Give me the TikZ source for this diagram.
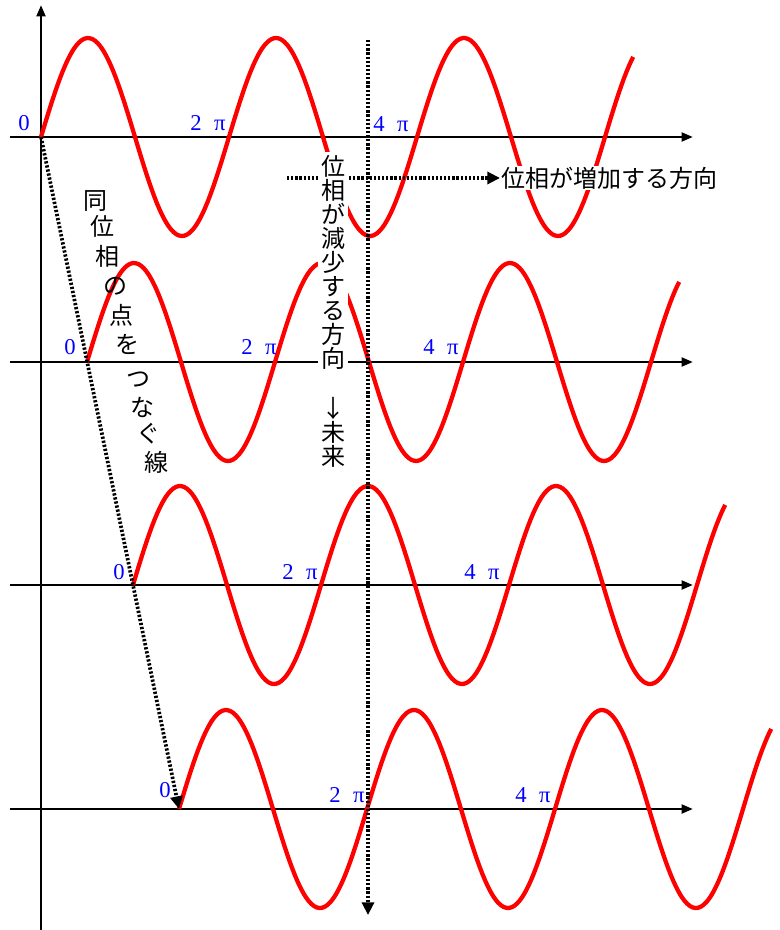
\documentclass[tikz,border=0pt]{standalone}
\usepackage{fontspec}
\newfontfamily\jpfont{Noto Sans CJK JP}
\newfontfamily\labfont{Liberation Serif}
\usetikzlibrary{arrows.meta,positioning}

\begin{document}
\begin{tikzpicture}[
  x=0.75pt, y=-0.75pt,
  axis/.style={line width=2pt, -{Triangle[length=8.5pt,width=6.5pt]}},
  wave/.style={red, line width=3.2pt},
  dotarr/.style={line width=2.8pt, dash pattern=on 1.7pt off 1.4pt,
                 -{Triangle[length=9.5pt,width=9pt]}},
  phase/.style={blue, font=\labfont\fontsize{17}{17}\selectfont, inner sep=0pt},
  jp/.style={font=\jpfont\fontsize{18}{18}\selectfont, inner sep=1pt},
  vjp/.style={jp, align=center, fill=white, inner sep=2pt}
]
  \useasboundingbox (0,0) rectangle (779,930);

  % axes and waves
  \coordinate (ybot) at (41,930);
  \coordinate (ytop) at (41,5);
  \draw[axis] (ybot) -- (ytop);
  \foreach \r/\yb/\xs in {1/137/41, 2/362/87, 3/585/133, 4/809/179} {
    \coordinate (w\r) at (10,\yb);
    \coordinate (e\r) at (693,\yb);
    \coordinate (o\r) at (\xs,\yb);
    \draw[axis] (w\r) -- (e\r);
    \draw[wave] plot[domain=0:1134, samples=220, smooth]
      ({\xs+\x*0.522222}, {\yb-99*sin(\x)});
  }

  % phase labels
  \node[phase] (z1) at (24,123) {0};
  \node[phase] (a1) at (208,123) {2\hspace{0.55em}π};
  \node[phase] (b1) at (391,124) {4\hspace{0.55em}π};
  \node[phase] (z2) at (70,347) {0};
  \node[phase] (a2) at (259,347) {2\hspace{0.55em}π};
  \node[phase] (b2) at (441,347) {4\hspace{0.55em}π};
  \node[phase] (z3) at (119,572) {0};
  \node[phase] (a3) at (300,572) {2\hspace{0.55em}π};
  \node[phase] (b3) at (482,572) {4\hspace{0.55em}π};
  \node[phase] (z4) at (165,790) {0};
  \node[phase] (a4) at (347,795) {2\hspace{0.55em}π};
  \node[phase] (b4) at (533,795) {4\hspace{0.55em}π};

  % dotted arrows
  \coordinate (vtop) at (368,40);
  \coordinate (vbot) at (368,915);
  \coordinate (hs) at (287,178);
  \node[jp, fill=white, anchor=west] (inc) at (500,178) {位相が増加する方向};
  \draw[dotarr] (vtop) -- (vbot);
  \draw[dotarr] (o1) -- (o4);
  \draw[dotarr] (hs) -- (inc.west);

  % texts
  \node[vjp] (dec) at (333,262) {位\\相\\が\\減\\少\\す\\る\\方\\向};
  \node[jp, align=center] (fut) at (333,432) {↓\\未\\来};
  \foreach \c/\px/\py [count=\i] in {同/95/201, 位/102/226, 相/107/256,
      の/115/286, 点/121/315, を/127/344, つ/138/380, な/142/407,
      ぐ/148/434, 線/156/462}
    \node[jp] (s\i) at (\px,\py) {\c};
\end{tikzpicture}
\end{document}
